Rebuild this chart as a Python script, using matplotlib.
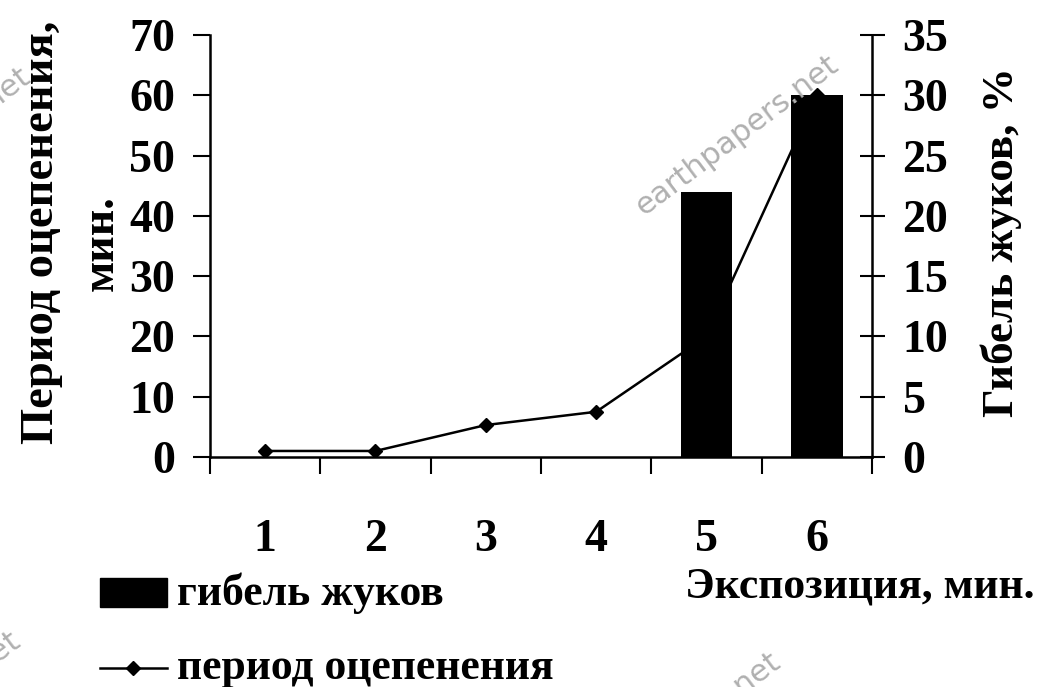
import numpy as np
import matplotlib
matplotlib.use("Agg")
import matplotlib.pyplot as plt
from matplotlib.lines import Line2D
from matplotlib.patches import Rectangle

# данные
expo = [1, 2, 3, 4, 5, 6]
gibel = [0, 0, 0, 0, 22, 30]            # гибель жуков, %
period = [1, 1, 5.3, 7.5, 20, 60]       # период оцепенения, мин.

plt.rcParams['font.family'] = ['Liberation Serif', 'DejaVu Serif']
plt.rcParams['font.weight'] = 'bold'

fig = plt.figure(figsize=(10.41, 6.87), dpi=100)
ax = fig.add_axes([0.2017, 0.3348, 0.6360, 0.6142])
ax2 = ax.twinx()

ax.plot(expo, period, color='black', lw=1.8, marker='D', ms=7, zorder=3)
ax2.bar(expo, gibel, width=0.47, color='black', zorder=2)

ax.set_xlim(0.5, 6.5)
ax.set_ylim(0, 70)
ax2.set_ylim(0, 35)
ax.set_yticks(np.arange(0, 71, 10))
ax2.set_yticks(np.arange(0, 36, 5))

ax.set_xticks(expo)
ax.set_xticks(np.arange(0.5, 6.6, 1), minor=True)
ax.tick_params(axis='x', which='major', length=0, pad=45, labelsize=33)
ax.tick_params(axis='x', which='minor', length=12, width=1.5, direction='out')
ax.tick_params(axis='y', length=12, width=1.5, direction='out', pad=13, labelsize=33)
ax2.tick_params(axis='y', length=18, width=1.5, direction='inout', pad=13, labelsize=33)

for a in (ax, ax2):
    a.spines['top'].set_visible(False)
    for s in ('left', 'right', 'bottom'):
        a.spines[s].set_linewidth(1.8)
ax.spines['right'].set_visible(False)
ax2.spines['left'].set_visible(False)
ax2.spines['bottom'].set_visible(False)
ax.patch.set_visible(False)
ax.set_zorder(1)
ax2.set_zorder(2)
ax2.patch.set_visible(False)

# подписи осей
fig.text(0.040, 0.662, 'Период оцепенения,', rotation=90, ha='center', va='center',
         fontsize=33.5)
fig.text(0.098, 0.646, 'мин.', rotation=90, ha='center', va='center', fontsize=33)
fig.text(0.962, 0.648, 'Гибель жуков, %', rotation=90, ha='center', va='center',
         fontsize=32.5)
fig.text(0.994, 0.146, 'Экспозиция, мин.', ha='right', va='center', fontsize=31.5)

# легенда
fig.patches.append(Rectangle((0.096, 0.117), 0.064, 0.042, transform=fig.transFigure,
                             color='black', figure=fig))
fig.text(0.170, 0.137, 'гибель жуков', ha='left', va='center', fontsize=31.5)
fig.lines.append(Line2D([0.096, 0.128, 0.160], [0.028, 0.028, 0.028],
                        transform=fig.transFigure, color='black', lw=1.8,
                        marker='D', ms=7, markevery=[1], figure=fig))
fig.text(0.170, 0.028, 'период оцепенения', ha='left', va='center', fontsize=31.5)

# водяной знак
wm = dict(color='#b0b0b0', fontsize=22, rotation=37, ha='center', va='center',
          family='DejaVu Sans', fontweight='normal')
fig.text(0.708, 0.803, 'earthpapers.net', **wm)
fig.text(-0.068, 0.785, 'earthpapers.net', **wm)
fig.text(-0.078, -0.036, 'earthpapers.net', **wm)
fig.text(0.652, -0.066, 'earthpapers.net', **wm)

fig.savefig('out.png', dpi=100)
